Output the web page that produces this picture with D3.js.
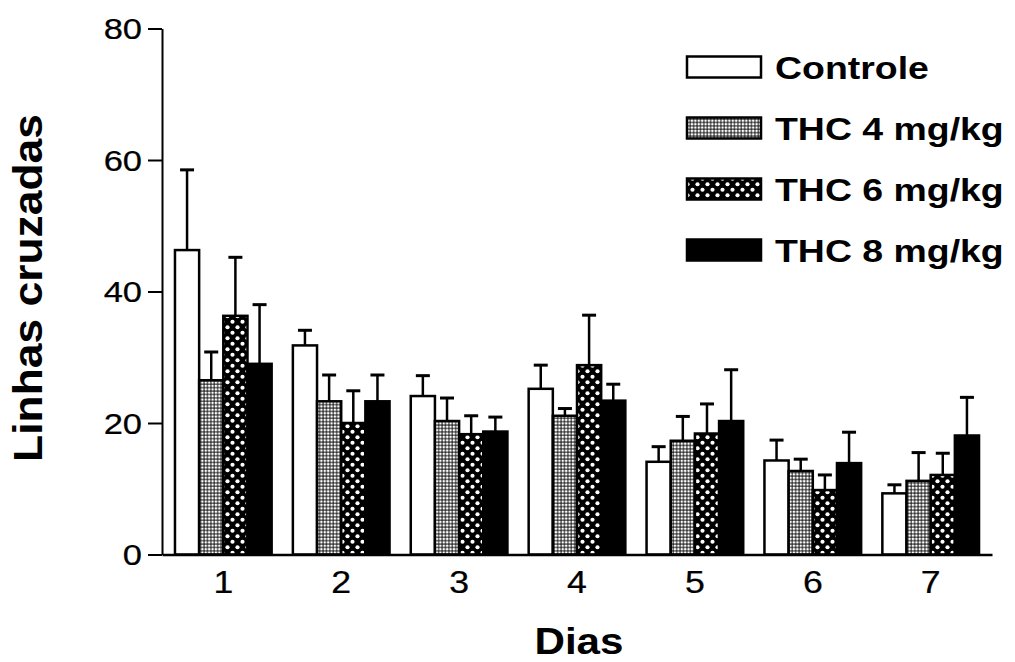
<!DOCTYPE html>
<html>
<head>
<meta charset="utf-8">
<script src="https://cdn.jsdelivr.net/npm/d3@7"></script>
<style>
  body { margin: 0; background: #fff; }
  text { font-family: "Liberation Sans", Arial, sans-serif; fill: #000; }
</style>
</head>
<body>
<div id="main"></div>
<script>
// data (mean and upper error)
const days = ["1", "2", "3", "4", "5", "6", "7"];
const groups = ["Controle", "THC 4 mg/kg", "THC 6 mg/kg", "THC 8 mg/kg"];
const controle = [46.3, 31.8, 24.1, 25.2, 14.1, 14.3, 9.3];
const controleErr = [12.2, 2.3, 3.1, 3.6, 2.3, 3.1, 1.3];
const thc4 = [26.5, 23.3, 20.3, 21.1, 17.3, 12.7, 11.2];
const thc4Err = [4.3, 4.0, 3.5, 1.1, 3.7, 1.8, 4.3];
const thc6 = [36.3, 20.0, 18.3, 28.8, 18.4, 9.8, 12.1];
const thc6Err = [8.9, 4.9, 2.8, 7.6, 4.5, 2.3, 3.3];
const thc8 = [29.0, 23.3, 18.7, 23.4, 20.3, 13.9, 18.1];
const thc8Err = [9.0, 4.0, 2.2, 2.5, 7.8, 4.7, 5.8];
const yTicks = [0, 20, 40, 60, 80];

const svgWidth = 1015;
const svgHeight = 662;
const stretch = 1.15; // the printed font runs wider than Arial

const means = [controle, thc4, thc6, thc8];
const errs = [controleErr, thc4Err, thc6Err, thc8Err];
const fills = ["#fff", "url(#p4)", "url(#p6)", "#000"];

var data = [];
days.forEach((d, i) => {
  groups.forEach((g, j) => {
    data.push({ day: d, group: g, value: means[j][i], err: errs[j][i], fill: fills[j] });
  });
});

var svg = d3.select("#main").append("svg")
  .attr("width", svgWidth)
  .attr("height", svgHeight);

// patterns
var defs = svg.append("defs");
var p4 = defs.append("pattern").attr("id", "p4")
  .attr("patternUnits", "userSpaceOnUse").attr("width", 3.4).attr("height", 3.4);
p4.append("rect").attr("width", 3.4).attr("height", 3.4).attr("fill", "#000");
p4.append("rect").attr("x", 0.5).attr("y", 0.5).attr("width", 2.5).attr("height", 2.5).attr("fill", "#fff");

var p6 = defs.append("pattern").attr("id", "p6")
  .attr("patternUnits", "userSpaceOnUse").attr("width", 10).attr("height", 11);
p6.append("rect").attr("width", 10).attr("height", 11).attr("fill", "#000");
p6.append("circle").attr("cx", 2.5).attr("cy", 2.75).attr("r", 2.1).attr("fill", "#fff");
p6.append("circle").attr("cx", 7.5).attr("cy", 8.25).attr("r", 2.1).attr("fill", "#fff");

// scales
var x = d3.scaleBand().domain(days).range([162, 992]).paddingInner(0.18).paddingOuter(0.11);
var xs = d3.scaleBand().domain(groups).range([0, x.bandwidth()]);
var y = d3.scaleLinear().domain([0, 80]).range([554.5, 28.5]);

// bars
svg.append("g").selectAll("rect")
  .data(data).enter().append("rect")
  .attr("x", d => x(d.day) + xs(d.group))
  .attr("y", d => y(d.value))
  .attr("width", xs.bandwidth())
  .attr("height", d => y(0) - y(d.value))
  .attr("fill", d => d.fill)
  .attr("stroke", "#000")
  .attr("stroke-width", 2.5);

// error bars
var eb = svg.append("g").attr("stroke", "#000").attr("stroke-width", 2.5);
eb.selectAll("line.v").data(data).enter().append("line")
  .attr("class", "v")
  .attr("x1", d => x(d.day) + xs(d.group) + xs.bandwidth() / 2)
  .attr("x2", d => x(d.day) + xs(d.group) + xs.bandwidth() / 2)
  .attr("y1", d => y(d.value))
  .attr("y2", d => y(d.value + d.err));
eb.selectAll("line.c").data(data).enter().append("line")
  .attr("class", "c")
  .attr("stroke-width", 3)
  .attr("x1", d => x(d.day) + xs(d.group) + xs.bandwidth() / 2 - 7)
  .attr("x2", d => x(d.day) + xs(d.group) + xs.bandwidth() / 2 + 7)
  .attr("y1", d => y(d.value + d.err))
  .attr("y2", d => y(d.value + d.err));

// ------------  AXIS  ------------
var yAxis = svg.append("g")
  .attr("transform", "translate(162,0)")
  .call(d3.axisLeft(y).tickValues(yTicks).tickSize(14).tickSizeOuter(0));
yAxis.selectAll("path, line").attr("stroke", "#000").attr("stroke-width", 2);
yAxis.selectAll("text")
  .attr("x", 0).attr("dy", "0.34em")
  .attr("transform", "translate(-20,0) scale(" + stretch + ",1)")
  .attr("stroke", "#000").attr("stroke-width", 0.25)
  .style("font-size", "30px").style("font-family", null);

var xAxis = svg.append("g")
  .attr("transform", "translate(0," + y(0) + ")")
  .call(d3.axisBottom(x).tickSize(0).tickSizeOuter(0));
xAxis.select("path").attr("stroke", "#000").attr("stroke-width", 2.5);
xAxis.selectAll("text")
  .attr("y", 0).attr("dy", 0)
  .attr("transform", "translate(0,38) scale(" + stretch + ",1)")
  .attr("stroke", "#000").attr("stroke-width", 0.25)
  .style("font-size", "31px").style("font-family", null);

// ------------  LABELS  ------------
svg.append("text")
  .text("Linhas cruzadas")
  .attr("text-anchor", "middle")
  .attr("font-weight", "bold")
  .attr("font-size", 40)
  .attr("transform", "translate(42,288) rotate(-90) scale(1.11,1)");

svg.append("text")
  .text("Dias")
  .attr("text-anchor", "middle")
  .attr("font-weight", "bold")
  .attr("font-size", 37)
  .attr("transform", "translate(579,654) scale(1.14,1)");

// legend
const legY = [67, 128, 189, 250];
var legend = svg.append("g");
legend.selectAll("rect").data(groups).enter().append("rect")
  .attr("x", 687)
  .attr("y", (d, i) => legY[i] - 10.5)
  .attr("width", 74)
  .attr("height", 21)
  .attr("fill", (d, i) => fills[i])
  .attr("stroke", "#000")
  .attr("stroke-width", 2.5);
legend.selectAll("text").data(groups).enter().append("text")
  .text(d => d)
  .attr("font-weight", "bold")
  .attr("font-size", 32)
  .attr("transform", (d, i) => "translate(775," + (legY[i] + 11.5) + ") scale(1.17,1)");
</script>
</body>
</html>
